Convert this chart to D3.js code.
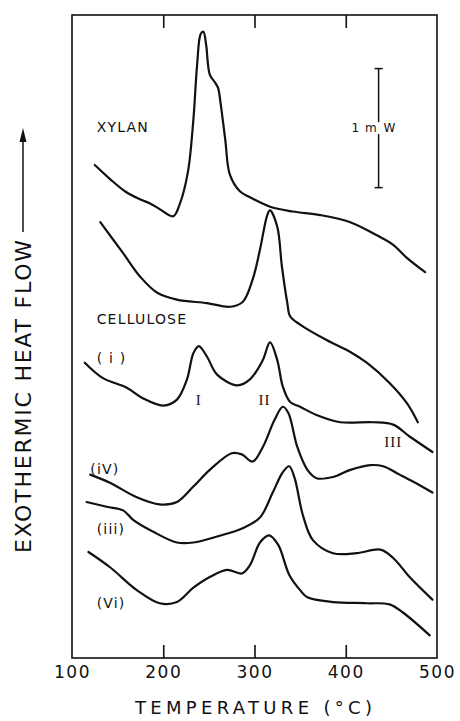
<!DOCTYPE html>
<html>
<head>
<meta charset="utf-8">
<script src="https://cdn.jsdelivr.net/npm/d3@7"></script>
<style>
    body { margin: 0; background: #fff; }
    svg { display: block; }
</style>
</head>
<body>
<div id="chart"></div>
<script>
// DSC traces, [temperature °C, heat flow mW offset]
const xylan = [[125, 4.14], [142, 4.02], [158, 3.92], [175, 3.85], [185, 3.82], [196, 3.77], [211, 3.71],
    [218, 3.81], [227, 4.08], [233, 4.52], [237, 4.97], [241, 5.24], [244, 5.26], [247, 5.15], [251, 4.90],
    [257, 4.83], [260, 4.79], [263, 4.65], [268, 4.35], [273, 4.06], [284, 3.92], [295, 3.87], [317, 3.79],
    [342, 3.75], [372, 3.72], [405, 3.66], [434, 3.55], [452, 3.47], [467, 3.36], [487, 3.24]];

const cellulose = [[131, 3.66], [156, 3.40], [175, 3.20], [193, 3.07], [215, 3.01], [248, 2.98], [273, 2.95],
    [287, 2.99], [298, 3.18], [306, 3.43], [314, 3.72], [317, 3.76], [325, 3.62], [330, 3.29], [336, 2.98],
    [339, 2.87], [350, 2.80], [379, 2.67], [405, 2.57], [423, 2.48], [448, 2.31], [467, 2.14], [479, 1.98]];

const sampleI = [[114, 2.48], [134, 2.35], [160, 2.27], [178, 2.18], [200, 2.12], [215, 2.17], [226, 2.34],
    [233, 2.56], [239, 2.62], [248, 2.53], [259, 2.38], [281, 2.29], [295, 2.34], [309, 2.50], [317, 2.65],
    [325, 2.50], [331, 2.28], [339, 2.15], [350, 2.11], [368, 2.04], [394, 1.98], [430, 1.98], [452, 1.96],
    [470, 1.86], [495, 1.73]];

const sampleIV = [[120, 1.54], [142, 1.47], [171, 1.35], [196, 1.29], [215, 1.31], [233, 1.44], [251, 1.58],
    [275, 1.72], [286, 1.71], [298, 1.65], [309, 1.77], [322, 2.00], [331, 2.11], [337, 2.06], [347, 1.77],
    [358, 1.58], [368, 1.51], [386, 1.52], [405, 1.58], [427, 1.62], [441, 1.61], [459, 1.54], [474, 1.48],
    [495, 1.39]];

const sampleIII = [[116, 1.31], [138, 1.27], [156, 1.24], [167, 1.16], [189, 1.06], [215, 0.97], [233, 0.97],
    [259, 1.02], [287, 1.09], [306, 1.18], [320, 1.39], [331, 1.56], [338, 1.61], [344, 1.51], [353, 1.20],
    [364, 0.99], [386, 0.88], [412, 0.88], [438, 0.91], [452, 0.84], [470, 0.68], [495, 0.49]];

const sampleVI = [[118, 0.89], [142, 0.76], [171, 0.57], [196, 0.46], [215, 0.47], [233, 0.59], [251, 0.68],
    [270, 0.74], [286, 0.71], [295, 0.78], [306, 0.97], [316, 1.03], [326, 0.95], [338, 0.70], [350, 0.57],
    [358, 0.51], [386, 0.47], [423, 0.46], [448, 0.45], [463, 0.38], [492, 0.19]];

const tickTemps = [100, 200, 300, 400, 500];
const innerTicks = [200, 300, 400];

// label text, temperature, mW, anchor
const curveLabels = [
    ["XYLAN", 127, 4.46, "start"],
    ["CELLULOSE", 127, 2.85, "start"],
    ["( i )", 127, 2.52, "start"],
    ["(iV)", 120, 1.59, "start"],
    ["(iii)", 127, 1.08, "start"],
    ["(Vi)", 127, 0.46, "start"]
];
const peakLabels = [["I", 239, 2.17], ["II", 311, 2.17], ["III", 452, 1.82]];

// 1 mW scale bar
const scaleBarT = 436;
const scaleBarRange = [3.95, 4.95];

class DscChart {
    constructor(parentElement) {
        this.parentElement = parentElement;
        this.initVis();
    }

    initVis() {
        let vis = this;

        vis.width = 460;
        vis.height = 721;

        vis.svg = d3.select("#" + vis.parentElement)
            .append("svg")
            .attr("width", vis.width)
            .attr("height", vis.height)
            .style("background", "#fff");

        vis.x = d3.scaleLinear().domain([100, 500]).range([72, 437]);
        vis.y = d3.scaleLinear().domain([0, 5.4]).range([658, 15]);

        vis.line = d3.line()
            .x(d => vis.x(d[0]))
            .y(d => vis.y(d[1]))
            .curve(d3.curveCatmullRom.alpha(0.5));

        vis.updateVis();
    }

    updateVis() {
        let vis = this;
        const [x0, x1] = vis.x.range();
        const [yb, yt] = vis.y.range();

        // frame
        vis.svg.append("rect")
            .attr("x", x0)
            .attr("y", yt)
            .attr("width", x1 - x0)
            .attr("height", yb - yt)
            .attr("fill", "none")
            .attr("stroke", "#111")
            .attr("stroke-width", 1.6);

        // ticks pointing inwards
        const bottomTicks = vis.svg.append("g")
            .attr("transform", `translate(0,${yb})`)
            .call(d3.axisTop(vis.x).tickValues(innerTicks).tickSize(13).tickFormat(""));
        const topTicks = vis.svg.append("g")
            .attr("transform", `translate(0,${yt})`)
            .call(d3.axisBottom(vis.x).tickValues(innerTicks).tickSize(13).tickFormat(""));
        [bottomTicks, topTicks].forEach(g => {
            g.select(".domain").remove();
            g.selectAll("line").attr("stroke", "#111").attr("stroke-width", 1.6);
        });

        // tick labels
        const labels = vis.svg.append("g")
            .attr("transform", `translate(0,${yb})`)
            .call(d3.axisBottom(vis.x).tickValues(tickTemps).tickSize(0).tickPadding(8).tickFormat(d3.format("d")));
        labels.select(".domain").remove();
        labels.selectAll("text")
            .attr("fill", "#111")
            .style("font-family", "DejaVu Sans")
            .style("font-size", "17px")
            .style("letter-spacing", "1.5px");

        vis.svg.append("text")
            .attr("x", (x0 + x1) / 2 - 1)
            .attr("y", 714)
            .attr("text-anchor", "middle")
            .attr("textLength", 237)
            .attr("fill", "#111")
            .style("font-family", "DejaVu Sans")
            .style("font-size", "18px")
            .text("TEMPERATURE (°C)");

        // y title with arrow
        vis.svg.append("text")
            .attr("transform", "translate(31,553) rotate(-90)")
            .attr("textLength", 313)
            .attr("fill", "#111")
            .style("font-family", "DejaVu Sans")
            .style("font-size", "22px")
            .text("EXOTHERMIC HEAT FLOW");

        vis.svg.append("line")
            .attr("x1", 23).attr("x2", 23)
            .attr("y1", 232).attr("y2", 138)
            .attr("stroke", "#111")
            .attr("stroke-width", 1.5);
        vis.svg.append("path")
            .attr("d", "M23,128 L19.5,142 L26.5,142 Z")
            .attr("fill", "#111");

        // curves
        const series = [xylan, cellulose, sampleI, sampleIV, sampleIII, sampleVI];
        vis.svg.selectAll(".trace")
            .data(series)
            .enter()
            .append("path")
            .attr("class", "trace")
            .attr("d", vis.line)
            .attr("fill", "none")
            .attr("stroke", "#111")
            .attr("stroke-width", 2.2)
            .attr("stroke-linejoin", "round")
            .attr("stroke-linecap", "round");

        vis.svg.selectAll(".curve-label")
            .data(curveLabels)
            .enter()
            .append("text")
            .attr("class", "curve-label")
            .attr("x", d => vis.x(d[1]))
            .attr("y", d => vis.y(d[2]))
            .attr("dy", "0.36em")
            .attr("text-anchor", d => d[3])
            .attr("fill", "#111")
            .style("font-family", "DejaVu Sans")
            .style("font-size", "14px")
            .style("font-weight", "500")
            .style("letter-spacing", "1.2px")
            .text(d => d[0]);

        vis.svg.selectAll(".peak-label")
            .data(peakLabels)
            .enter()
            .append("text")
            .attr("class", "peak-label")
            .attr("x", d => vis.x(d[1]))
            .attr("y", d => vis.y(d[2]))
            .attr("dy", "0.35em")
            .attr("text-anchor", "middle")
            .attr("fill", "#111")
            .style("font-family", "Liberation Serif")
            .style("font-size", "15px")
            .style("letter-spacing", "1px")
            .text(d => d[0]);

        // scale bar, gap for the label
        const bx = vis.x(scaleBarT);
        const mid = (scaleBarRange[0] + scaleBarRange[1]) / 2;
        const bar = vis.svg.append("g").attr("stroke", "#111").attr("stroke-width", 1.5);
        [[scaleBarRange[0], mid - 0.05], [mid + 0.05, scaleBarRange[1]]].forEach(s => {
            bar.append("line")
                .attr("x1", bx).attr("x2", bx)
                .attr("y1", vis.y(s[0])).attr("y2", vis.y(s[1]));
        });
        scaleBarRange.forEach(v => {
            bar.append("line")
                .attr("x1", bx - 4).attr("x2", bx + 4)
                .attr("y1", vis.y(v)).attr("y2", vis.y(v));
        });
        vis.svg.append("text")
            .attr("x", bx - 1)
            .attr("y", vis.y(mid))
            .attr("dy", "0.36em")
            .attr("text-anchor", "end")
            .attr("fill", "#111")
            .style("font-family", "DejaVu Sans")
            .style("font-size", "12px")
            .style("letter-spacing", "1px")
            .text("1 m");
        vis.svg.append("text")
            .attr("x", bx + 5)
            .attr("y", vis.y(mid))
            .attr("dy", "0.36em")
            .attr("fill", "#111")
            .style("font-family", "DejaVu Sans")
            .style("font-size", "12px")
            .text("W");
    }
}

new DscChart("chart");
</script>
</body>
</html>
